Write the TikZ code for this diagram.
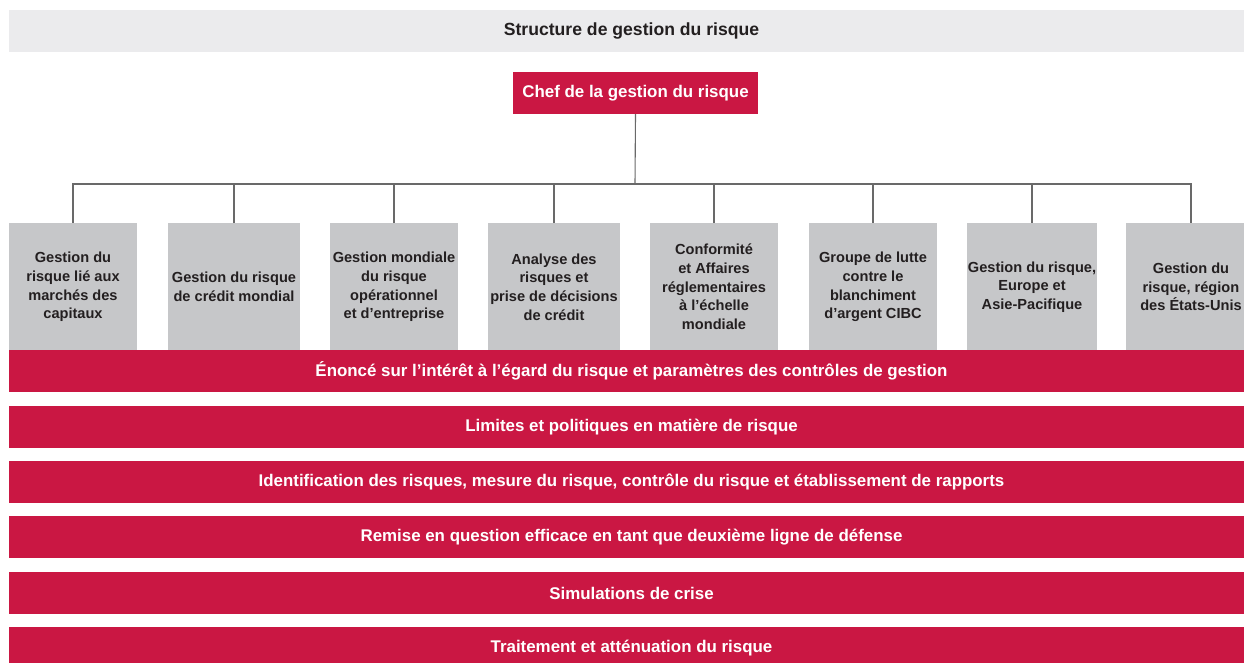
\documentclass[tikz,border=0pt]{standalone}
\usepackage{fontspec}
\setmainfont{Liberation Sans}
\definecolor{cibcred}{RGB}{202,23,67}
\definecolor{hdrgray}{RGB}{235,235,237}
\definecolor{boxgray}{RGB}{198,199,201}
\definecolor{txtdark}{RGB}{35,31,32}
\definecolor{linegray}{RGB}{105,105,105}
\begin{document}
\begin{tikzpicture}[x=1pt,y=-1pt,
  hdrbox/.style={fill=hdrgray, text=txtdark, inner sep=0pt,
    minimum height=42pt, font=\bfseries\fontsize{17.6}{20}\selectfont},
  redbox/.style={fill=cibcred, text=white, inner sep=0pt,
    minimum height=42pt, font=\bfseries\fontsize{16.9}{20}\selectfont},
  unitbox/.style={fill=boxgray, text=txtdark, inner sep=0pt, align=center,
    minimum height=128pt, font=\bfseries\fontsize{14.6}{18.7}\selectfont},
  conn/.style={draw=linegray, line width=1.1pt}]
\useasboundingbox (0,0) rectangle (1244,663);

\node[hdrbox, minimum width=1245pt] (hdr) at (631.5,31) {Structure de gestion du risque};
\node[redbox, minimum width=245pt] (chef) at (635.5,93) {Chef de la gestion du risque};
\coordinate (hub) at (635,184);

\node[unitbox, minimum width=128pt] (b1) at (73,287) {Gestion du\\risque lié aux\\marchés des\\capitaux};
\node[unitbox, minimum width=132pt] (b2) at (234,287) {Gestion du risque\\de crédit mondial};
\node[unitbox, minimum width=128pt] (b3) at (394,287) {Gestion mondiale\\du risque\\opérationnel\\et d’entreprise};
\node[unitbox, minimum width=132pt] (b4) at (554,287) {Analyse des\\risques et\\prise de décisions\\de crédit};
\node[unitbox, minimum width=128pt] (b5) at (714,287) {Conformité\\et Affaires\\réglementaires\\à l’échelle\\mondiale};
\node[unitbox, minimum width=128pt] (b6) at (873,287) {Groupe de lutte\\contre le\\blanchiment\\d’argent CIBC};
\node[unitbox, minimum width=130pt] (b7) at (1032,287) {Gestion du risque,\\Europe et\\Asie-Pacifique};
\node[unitbox, minimum width=130pt] (b8) at (1191,287) {Gestion du\\risque, région\\des États-Unis};

\draw[conn] (chef.south) -- (hub);
\foreach \b in {b1,b2,b3,b4,b5,b6,b7,b8}{
  \draw[conn] (hub) -| (\b.north);
}

\node[redbox, minimum width=1245pt] (r1) at (631.5,371) {Énoncé sur l’intérêt à l’égard du risque et paramètres des contrôles de gestion};
\node[redbox, minimum width=1245pt] (r2) at (631.5,427) {Limites et politiques en matière de risque};
\node[redbox, minimum width=1245pt] (r3) at (631.5,482) {Identification des risques, mesure du risque, contrôle du risque et établissement de rapports};
\node[redbox, minimum width=1245pt] (r4) at (631.5,537) {Remise en question efficace en tant que deuxième ligne de défense};
\node[redbox, minimum width=1245pt] (r5) at (631.5,593) {Simulations de crise};
\node[redbox, minimum width=1245pt] (r6) at (631.5,648) {Traitement et atténuation du risque};
\end{tikzpicture}
\end{document}
